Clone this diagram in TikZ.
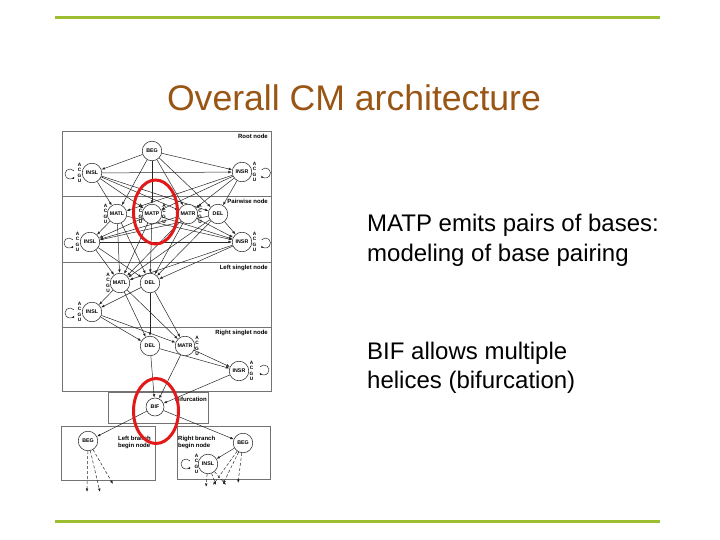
\documentclass[tikz,border=0pt]{standalone}
\usepackage{fontspec}
\setmainfont{Liberation Sans}
\usetikzlibrary{arrows.meta}
\pgfdeclarelayer{bg}
\pgfsetlayers{bg,main}
\definecolor{slgreen}{RGB}{158,190,50}
\definecolor{ttl}{RGB}{153,85,20}
\definecolor{redmark}{RGB}{225,25,25}
\tikzset{
  st/.style={circle,draw=black!85,fill=white,line width=0.55pt,minimum size=19.5pt,inner sep=0pt,font=\fontsize{5.3}{6}\selectfont\bfseries},
  lt/.style={inner sep=0pt,font=\fontsize{4.8}{5}\selectfont\bfseries},
  boxline/.style={draw=black!55,line width=0.7pt},
  lab/.style={inner sep=0pt,font=\fontsize{6}{6.5}\selectfont\bfseries,align=left},
  tr/.style={draw=black!85,line width=0.5pt,-{Latex[length=3.5pt,width=2.6pt]}},
  looptr/.style={draw=black!85,line width=0.5pt,-{Latex[length=2.5pt,width=2.2pt]}},
  dtr/.style={tr,dash pattern=on 3pt off 2pt},
  redring/.style={draw=redmark,line width=3pt},
  body/.style={anchor=base west,inner sep=0pt,font=\fontsize{24}{29}\selectfont}
}
\newcommand\acgu[3]{%
  \foreach \l [count=\i] in {A,C,G,U}
    \node[lt] (#3-\i) at (#1,{#2+(\i-2.5)*5.5}) {\l};}
\newcommand\loopL[2]{\draw[looptr] ([shift={(#1,#2)}]-40:5) arc[start angle=-40,end angle=-330,radius=5];}
\newcommand\loopR[2]{\draw[looptr] ([shift={(#1,#2)}]-140:5) arc[start angle=-140,end angle=150,radius=5];}
\begin{document}
\begin{tikzpicture}[x=1pt,y=-1pt]
\useasboundingbox (0,0) rectangle (720,540);
% green rules
\draw[slgreen,line width=3pt] (55,18) -- (660,18);
\draw[slgreen,line width=3pt] (55,521) -- (660,521);
% title
\node[font=\fontsize{35.6}{40}\selectfont,text=ttl,anchor=base,inner sep=0pt] (title) at (354,111) {Overall CM architecture};
% body text
\node[body] (t1) at (367,232) {MATP emits pairs of bases:};
\node[body] (t2) at (367,261) {modeling of base pairing};
\node[body] (t3) at (367,359) {BIF allows multiple};
\node[body] (t4) at (367,388) {helices (bifurcation)};

% boxes
\begin{pgfonlayer}{bg}
\draw[boxline] (62,131) rectangle (271,196);
\draw[boxline] (62,196) rectangle (271,262);
\draw[boxline] (62,262) rectangle (271,327);
\draw[boxline] (62,327) rectangle (271,391);
\draw[boxline] (108,392) rectangle (208,423);
\draw[boxline] (61,426) rectangle (155,480);
\draw[boxline] (177,426) rectangle (270,479);
\end{pgfonlayer}

% box labels
\node[lab,anchor=north east] (Lroot) at (268,134) {Root node};
\node[lab,anchor=north east] (Lpair) at (268,199) {Pairwise node};
\node[lab,anchor=north east] (Lleft) at (268,265) {Left singlet node};
\node[lab,anchor=north east] (Lright) at (268,330) {Right singlet node};
\node[lab,anchor=east] (Lbif) at (207,399.5) {Bifurcation};
\node[lab,anchor=north west] (Lbl) at (118,436) {Left branch\\begin node};
\node[lab,anchor=north west] (Lbr) at (178,436) {Right branch\\begin node};

% states
\node[st] (rBEG) at (152,151) {BEG};
\node[st] (rINSL) at (92,173) {INSL};
\node[st] (rINSR) at (242,172) {INSR};
\node[st] (pMATL) at (117,214) {MATL};
\node[st] (pMATP) at (152,214) {MATP};
\node[st] (pMATR) at (188,214) {MATR};
\node[st] (pDEL) at (218,214) {DEL};
\node[st] (pINSL) at (90,242) {INSL};
\node[st] (pINSR) at (242,242) {INSR};
\node[st] (lMATL) at (120,283) {MATL};
\node[st] (lDEL) at (150,283) {DEL};
\node[st] (lINSL) at (92,312) {INSL};
\node[st] (sDEL) at (150,346) {DEL};
\node[st] (sMATR) at (185,346) {MATR};
\node[st] (sINSR) at (239,371) {INSR};
\node[st,minimum size=18pt] (BIF) at (155,407) {BIF};
\node[st] (bBEGL) at (88,441) {BEG};
\node[st] (bBEGR) at (243,443) {BEG};
\node[st] (bINSL) at (208,464) {INSL};

% emission letters
\acgu{79.5}{173}{a1}
\acgu{254.5}{172}{a2}
\acgu{105.5}{214}{a3}
\acgu{140.5}{214}{a4}
\acgu{164}{214}{a5}
\acgu{200}{214}{a6}
\acgu{77.5}{242}{a7}
\acgu{254.5}{242}{a8}
\acgu{108}{283}{a9}
\acgu{79.5}{312}{a10}
\acgu{197}{346}{a11}
\acgu{251.5}{371}{a12}
\acgu{196.5}{464}{a13}

% self loops
\loopL{70}{174}
\loopR{265.5}{173}
\loopL{69}{243}
\loopR{265.5}{243}
\loopL{70}{313}
\loopR{264}{370}
\loopL{186}{464}

% transitions
\begin{pgfonlayer}{bg}
\foreach \t in {rINSL,rINSR,pMATL,pMATP,pMATR,pDEL} \draw[tr] (rBEG) -- (\t);
\foreach \t in {rINSR,pMATL,pMATP,pMATR,pDEL} \draw[tr] (rINSL) -- (\t);
\foreach \t in {pMATL,pMATP,pMATR,pDEL} \draw[tr] (rINSR) -- (\t);
\foreach \s in {pMATL,pMATP,pMATR,pDEL}
  \foreach \t in {pINSL,pINSR,lMATL,lDEL} \draw[tr] (\s) -- (\t);
\foreach \t in {pINSR,lMATL,lDEL} \draw[tr] (pINSL) -- (\t);
\foreach \t in {lMATL,lDEL} \draw[tr] (pINSR) -- (\t);
\foreach \s in {lMATL,lDEL}
  \foreach \t in {lINSL,sDEL,sMATR} \draw[tr] (\s) -- (\t);
\foreach \t in {sDEL,sMATR} \draw[tr] (lINSL) -- (\t);
\foreach \s in {sDEL,sMATR}
  \foreach \t in {sINSR,BIF} \draw[tr] (\s) -- (\t);
\draw[tr] (sINSR) -- (BIF);
\draw[tr] (BIF) -- (bBEGL);
\draw[tr] (BIF) -- (bBEGR);
\draw[tr] (bBEGR) -- (bINSL);
% dashed exits
\coordinate (e1) at (87,492);
\coordinate (e2) at (100,492);
\coordinate (e3) at (113,484);
\coordinate (e4) at (213,485);
\coordinate (e5) at (223,484);
\coordinate (e6) at (238,483);
\coordinate (e7) at (206,487);
\coordinate (e8) at (216,485);
\coordinate (e9) at (226,485);
\foreach \t in {e1,e2,e3} \draw[dtr] (bBEGL) -- (\t);
\foreach \t in {e4,e5,e6} \draw[dtr] (bBEGR) -- (\t);
\foreach \t in {e7,e8,e9} \draw[dtr] (bINSL) -- (\t);
\end{pgfonlayer}

% red highlight rings
\draw[redring] (155.5,212) ellipse [x radius=22,y radius=32];
\draw[redring] (156,411) ellipse [x radius=22.5,y radius=32.5];
\end{tikzpicture}
\end{document}
